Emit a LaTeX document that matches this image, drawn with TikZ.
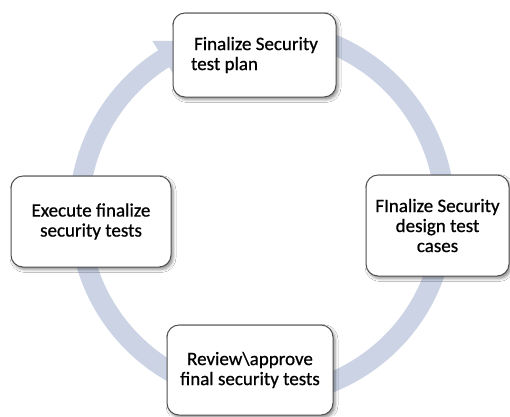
\documentclass[tikz,border=0pt]{standalone}
\usepackage{fontspec}
\setmainfont{Carlito}[RawFeature={embolden=0.7}]
\usetikzlibrary{shadows.blur}
\definecolor{ringcol}{RGB}{203,211,228}
\definecolor{boxline}{RGB}{80,80,80}
\tikzset{
  cyclebox/.style={draw=boxline, line width=1pt, fill=white, rounded corners=12pt,
    font=\fontsize{19}{20}\selectfont, text=black, align=center, inner sep=0pt,
    blur shadow={shadow xshift=2pt, shadow yshift=-2.5pt, shadow blur radius=3pt, shadow opacity=45}},
}
\begin{document}
\begin{tikzpicture}[x=1pt,y=-1pt]
\useasboundingbox (0,0) rectangle (510,416);
\fill[white] (0,0) rectangle (510,416);
% ring with arrow head
\begin{scope}[shift={(262,213)}]
\fill[ringcol] (-75:193) arc[start angle=-75, end angle=237.5, radius=193]
  -- (237.5:204) -- (250:183) -- (237.5:162) -- (237.5:173)
  arc[start angle=237.5, end angle=-75, radius=173] -- cycle;
\end{scope}
% boxes
\node[cyclebox, align=left, minimum width=163pt, minimum height=84pt] (plan) at (254.5,55)
  {\hspace{3pt}Finalize Security\\test plan};
\node[cyclebox, minimum width=143pt, minimum height=101pt] (design) at (437.5,225.5)
  {FInalize Security\\design test\\cases};
\node[cyclebox, minimum width=166pt, minimum height=90pt] (review) at (250,370)
  {Review\textbackslash approve\\final security tests};
\node[cyclebox, minimum width=160pt, minimum height=91pt] (execute) at (91,221.5)
  {Execute finalize\\security tests};
\end{tikzpicture}
\end{document}
